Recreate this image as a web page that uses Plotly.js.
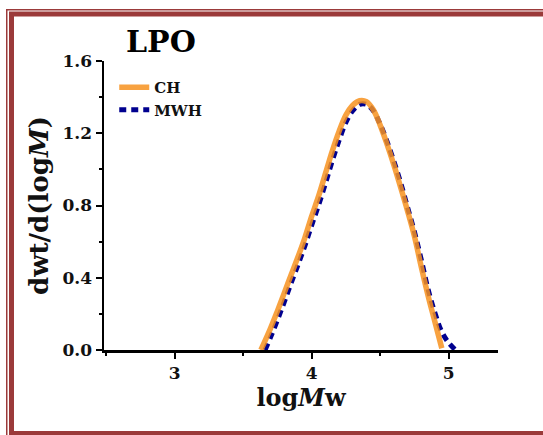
<!DOCTYPE html>
<html>
<head>
<meta charset="utf-8">
<script src="https://cdn.plot.ly/plotly-3.0.1.min.js"></script>
<style>
  html, body { margin: 0; padding: 0; background: #ffffff; overflow: hidden; }
  #chart { width: 543px; height: 435px; }
</style>
</head>
<body>
<div id="chart"></div>
<script>
// Data
const chX = [3.63, 3.70, 3.75, 3.80, 3.85, 3.90, 3.95, 4.00, 4.05, 4.10, 4.15, 4.20, 4.25, 4.30, 4.35, 4.40, 4.45, 4.50, 4.55, 4.60, 4.65, 4.70, 4.75, 4.80, 4.85, 4.90, 4.95];
const chY = [0.00, 0.12, 0.215, 0.315, 0.415, 0.515, 0.62, 0.74, 0.85, 0.975, 1.10, 1.21, 1.30, 1.355, 1.38, 1.375, 1.33, 1.245, 1.14, 1.025, 0.90, 0.77, 0.63, 0.46, 0.30, 0.155, 0.01];

const mwhX = [3.66, 3.70, 3.75, 3.80, 3.85, 3.90, 3.95, 4.00, 4.05, 4.10, 4.15, 4.20, 4.25, 4.30, 4.35, 4.40, 4.45, 4.50, 4.55, 4.60, 4.65, 4.70, 4.75, 4.80, 4.85, 4.90, 4.95, 5.00, 5.05];
const mwhY = [0.00, 0.07, 0.165, 0.265, 0.37, 0.47, 0.575, 0.69, 0.80, 0.92, 1.045, 1.16, 1.26, 1.325, 1.36, 1.36, 1.325, 1.25, 1.155, 1.045, 0.925, 0.79, 0.655, 0.50, 0.335, 0.205, 0.10, 0.04, 0.00];

const xTickVals = [3, 4, 5];
const yTickVals = [0, 0.4, 0.8, 1.2, 1.6];
const yTickText = ['0.0', '0.4', '0.8', '1.2', '1.6'];

const serif = 'DejaVu Serif, Liberation Serif, serif';
const frameColor = '#9b3a3a';

// plot area geometry (pixels) for converting frame decoration to paper coords
const W = 543, H = 435, ML = 104, MR = 45, MT = 61, MB = 85;
const PW = W - ML - MR, PH = H - MT - MB;
const px = v => (v - ML) / PW;
const py = v => (H - MB - v) / PH;

function frameLine(x0, y0, x1, y1, w) {
  return { type: 'line', xref: 'paper', yref: 'paper', x0: px(x0), y0: py(y0), x1: px(x1), y1: py(y1),
           line: { color: frameColor, width: w }, layer: 'above' };
}

const traces = [
  {
    x: mwhX, y: mwhY, name: '<b>MWH</b>', type: 'scatter', mode: 'lines', legendrank: 2,
    line: { color: '#00008f', width: 5, dash: '7px,5px', shape: 'spline', smoothing: 1 }
  },
  {
    x: chX, y: chY, name: '<b>CH</b>', type: 'scatter', mode: 'lines', legendrank: 1,
    line: { color: 'rgba(247,146,30,0.85)', width: 5.5, shape: 'spline', smoothing: 1 }
  }
];

const layout = {
  width: W, height: H,
  margin: { l: ML, r: MR, t: MT, b: MB },
  paper_bgcolor: '#ffffff', plot_bgcolor: '#ffffff',
  showlegend: true,
  legend: {
    x: 0.026, y: 0.965, xanchor: 'left', yanchor: 'top',
    traceorder: 'normal', bgcolor: 'rgba(0,0,0,0)',
    font: { family: serif, size: 15, color: '#111' },
    itemwidth: 30, tracegroupgap: 6
  },
  xaxis: {
    range: [2.485, 5.36],
    tickvals: xTickVals, ticktext: xTickVals.map(String),
    ticks: 'outside', ticklen: 6, tickwidth: 2, tickcolor: '#000',
    minor: { dtick: 0.5, tick0: 0, ticks: 'outside', ticklen: 3, tickwidth: 2, tickcolor: '#000' },
    showline: true, linecolor: '#000', linewidth: 2.5,
    showgrid: false, zeroline: false,
    tickfont: { family: serif, size: 17, color: '#111', weight: 'bold' },
    title: { text: '<b>log<i>M</i>w</b>', font: { family: serif, size: 24, color: '#111' }, standoff: 6 }
  },
  yaxis: {
    range: [0, 1.6],
    tickvals: yTickVals, ticktext: yTickText,
    ticks: 'outside', ticklen: 6, tickwidth: 2, tickcolor: '#000',
    minor: { dtick: 0.2, tick0: 0, ticks: 'outside', ticklen: 3, tickwidth: 2, tickcolor: '#000' },
    showline: true, linecolor: '#000', linewidth: 2.5,
    showgrid: false, zeroline: false,
    tickfont: { family: serif, size: 17, color: '#111', weight: 'bold' },
    title: { text: '<b>dwt/d(log<i>M</i>)</b>', font: { family: serif, size: 26, color: '#111' }, standoff: 7 }
  },
  shapes: [
    frameLine(6, 9.75, 700, 9.75, 1.5),
    frameLine(6.75, 9, 6.75, 500, 1.5),
    frameLine(9, 14, 700, 14, 5),
    frameLine(11.5, 12, 11.5, 436, 5),
    frameLine(9, 433.5, 700, 433.5, 5)
  ],
  annotations: [
    {
      text: '<b>LPO</b>', xref: 'paper', yref: 'paper',
      x: 0.05, y: 1.0675, xanchor: 'left', yanchor: 'middle',
      showarrow: false, font: { family: serif, size: 30, color: '#000' }
    }
  ]
};

Plotly.newPlot('chart', traces, layout, { staticPlot: true, displayModeBar: false });
</script>
</body>
</html>
